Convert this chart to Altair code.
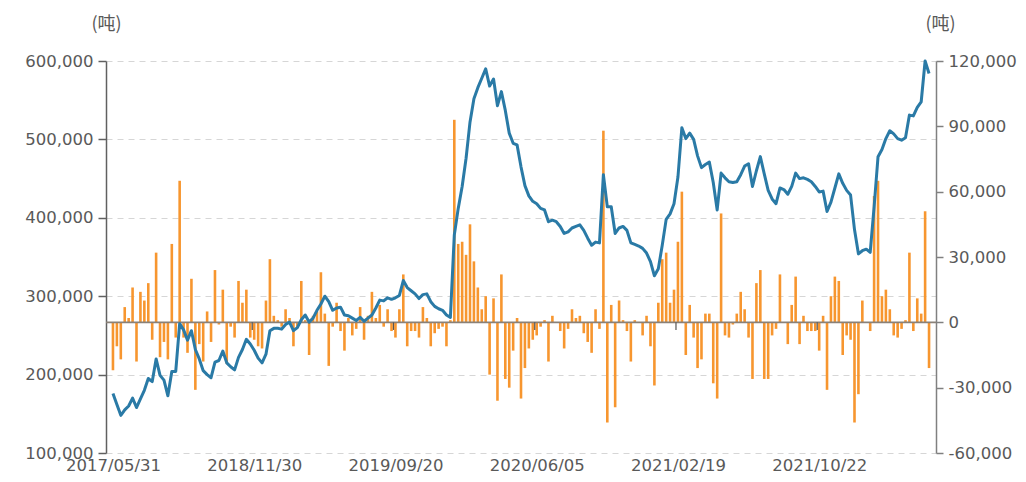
import altair as alt
import pandas as pd

# x-axis labels (every 36th weekly/semi-monthly period) and their category index
tick_labels = ["2017/05/31", "2018/11/30", "2019/09/20", "2020/06/05", "2021/02/19", "2021/10/22"]
label_positions = [0, 36, 72, 108, 144, 180]

# inventory (thousand tons, left axis)
inventory_k = [
    176, 162, 148, 155, 160, 170, 158, 169, 180, 195, 191, 220, 199, 193, 173, 204, 204, 265, 257, 244,
    256, 232, 220, 205, 200, 196, 216, 218, 230, 215, 210, 206, 222, 232, 245, 239, 231, 221, 215, 226,
    256, 259, 259, 258, 264, 267, 256, 260, 270, 276, 267, 272, 282, 290, 300, 293, 282, 285, 286, 276,
    275, 272, 269, 273, 268, 272, 276, 285, 295, 294, 298, 296, 298, 301, 320, 311, 307, 303, 297, 302,
    303, 293, 287, 284, 282, 276, 273, 378, 412, 440, 476, 522, 552, 566, 578, 590, 568, 577, 543, 561,
    537, 508, 495, 493, 465, 441, 428, 421, 418, 412, 410, 395, 397, 395, 389, 380, 382, 387, 389, 391,
    384, 374, 365, 369, 368, 455, 414, 414, 380, 387, 389, 384, 368, 366, 364, 361, 355, 344, 326, 335,
    365, 398, 405, 418, 452, 515, 501, 508, 500, 479, 464, 468, 471, 445, 410, 457, 451, 446, 445, 446,
    455, 466, 469, 440, 460, 478, 456, 435, 424, 418, 438, 436, 430, 440, 457, 450, 451, 449, 446, 440,
    433, 434, 408, 420, 438, 456, 444, 435, 429, 385, 354, 358, 360, 356, 414, 478, 487, 501, 511, 507,
    501, 499, 502, 531, 530, 541, 548, 600, 584,
]

# weekly change (thousand tons, right axis)
change_k = [
    -22, -11, -17, 7, 2, 16, -18, 14, 10, 18, -8, 32, -16, -9, -17, 36, -7, 65, -7, -14,
    20, -31, -10, -18, 5, -9, 24, -1, 15, -19, -2, -7, 19, 9, 15, -7, -8, -11, -12, 10,
    29, 3, 1, -2, 6, 2, -11, -2, 19, 1, -15, 3, 5, 23, 4, -20, -2, 9, -4, -13,
    2, -6, -3, 7, -8, 3, 14, 2, 8, -2, 6, -4, -7, 6, 22, -11, -4, -4, -7, 7,
    2, -11, -5, -3, -2, -11, 1, 93, 36, 37, 31, 45, 28, 16, 6, 12, -24, 11, -36, 22,
    -26, -30, -13, 2, -35, -21, -12, -8, -6, -2, 1, -18, 3, 0, -4, -12, -3, 6, 2, 3,
    -5, -9, -14, 6, -3, 88, -46, 8, -39, 10, 1, -4, -18, 1, 0, -6, 3, -11, -29, 9,
    29, 32, 9, 15, 37, 60, -15, 8, -7, -21, -17, 4, 4, -28, -35, 50, -6, -7, -1, 4,
    14, 6, -7, -26, 18, 24, -26, -26, -6, -3, 22, 0, -10, 8, 21, -10, 3, -4, -4, -4,
    -13, 3, -31, 12, 21, 19, -15, -6, -8, -46, -33, 10, 0, -4, 58, 65, 12, 15, 6, -6,
    -7, -3, 1, 32, -4, 11, 4, 51, -21,
]

left_ticks = [100000, 200000, 300000, 400000, 500000, 600000]
right_ticks = [-60000, -30000, 0, 30000, 60000, 90000, 120000]

n = len(inventory_k)
df = pd.DataFrame({
    "idx": list(range(n)),
    "inv": [v * 1000 for v in inventory_k],
    "chg": [v * 1000 for v in change_k],
})
zero_df = pd.DataFrame({"z": [0]})
tick_df = pd.DataFrame({"b": [p - 0.5 for p in label_positions[1:]], "y0": [0] * 5, "y1": [-3500] * 5})

FONT = "DejaVu Sans"
FS = 16.5
TXT = "#595959"
NUM_EXPR = "(datum.value < 0 ? '-' : '') + format(abs(datum.value), ',')"

xscale = alt.Scale(domain=[-0.5, n - 0.5], nice=False, zero=False)
arr = "[" + ",".join(f"'{s}'" for s in tick_labels) + "]"
xaxis = alt.Axis(
    values=label_positions, labelExpr=f"{arr}[round(datum.value/36)]",
    domain=False, ticks=False, grid=False, labelFont=FONT, labelFontSize=FS,
    labelColor=TXT, labelPadding=17, labelBaseline="alphabetic",
    labelFlush=False, labelOverlap=False, title=None,
)

rscale = alt.Scale(domain=[-60000, 120000], nice=False)
raxis = alt.Axis(
    orient="right", values=right_ticks, grid=False, labelExpr=NUM_EXPR,
    labelFont=FONT, labelFontSize=FS, labelColor=TXT, labelPadding=5,
    domainColor="#808080", domainWidth=1.5, tickColor="#808080", tickSize=7, tickWidth=1.5,
    title="(吨)", titleAngle=0, titleX=4, titleY=-37, titleAlign="center",
    titleBaseline="middle", titleFont="Noto Sans CJK SC", titleFontSize=18,
    titleFontWeight="normal", titleColor=TXT,
)

bars = alt.Chart(df).mark_bar(color="#F7962F", size=2.6).encode(
    x=alt.X("idx:Q", scale=xscale, axis=xaxis),
    y=alt.Y("chg:Q", scale=rscale, axis=raxis),
)
zero = alt.Chart(zero_df).mark_rule(color="#8a8178", strokeWidth=1.8).encode(
    y=alt.Y("z:Q", scale=rscale, axis=raxis),
)
zticks = alt.Chart(tick_df).mark_rule(color="#555", strokeWidth=1.2).encode(
    x=alt.X("b:Q", scale=xscale, axis=xaxis),
    y=alt.Y("y0:Q", scale=rscale, axis=raxis),
    y2="y1:Q",
)

laxis = alt.Axis(
    orient="left", values=left_ticks, labelExpr=NUM_EXPR, grid=True,
    gridDash=[6, 5], gridColor="#d6d6d6", gridWidth=1,
    labelFont=FONT, labelFontSize=FS, labelColor=TXT, labelPadding=5,
    domainColor="#606060", domainWidth=1.5, tickColor="#606060", tickSize=8, tickWidth=1.5,
    title="(吨)", titleAngle=0, titleX=0, titleY=-37, titleAlign="center",
    titleBaseline="middle", titleFont="Noto Sans CJK SC", titleFontSize=18,
    titleFontWeight="normal", titleColor=TXT,
)
line = alt.Chart(df).mark_line(color="#2A7AA6", strokeWidth=3, strokeJoin="round").encode(
    x=alt.X("idx:Q", scale=xscale, axis=xaxis),
    y=alt.Y("inv:Q", scale=alt.Scale(domain=[100000, 600000], nice=False, zero=False), axis=laxis),
)

chart = alt.layer(alt.layer(bars, zero, zticks), line).resolve_scale(y="independent").properties(
    width=830, height=392,
    padding={"left": 98, "top": 53, "right": 82, "bottom": 21},
    autosize=alt.AutoSizeParams(type="none"),
    background="white",
).configure_view(strokeWidth=0)

chart.save("out.html", embed_options={"renderer": "svg", "actions": False})
